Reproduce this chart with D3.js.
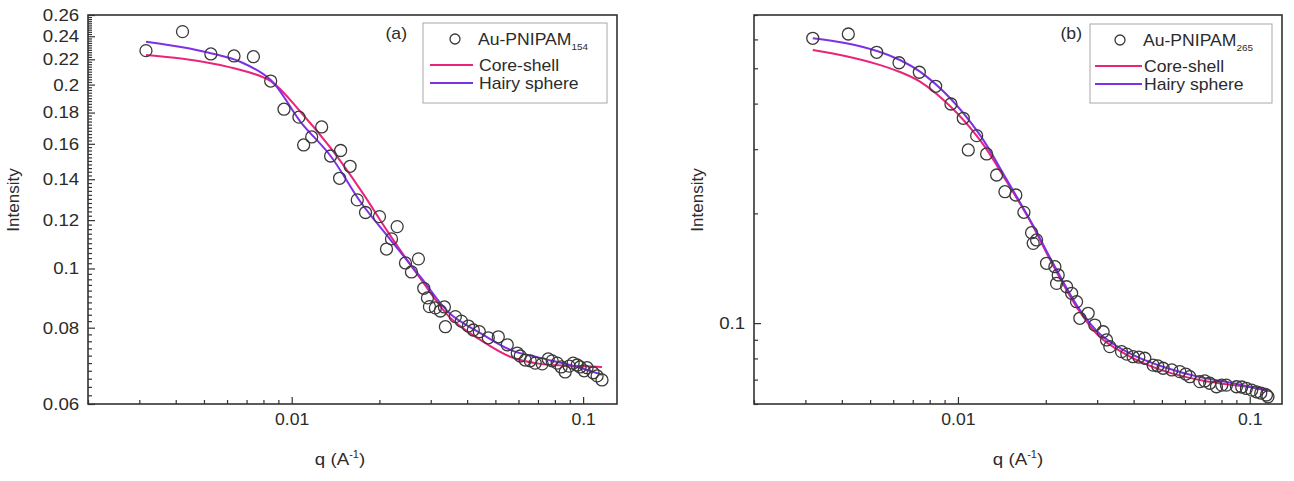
<!DOCTYPE html>
<html>
<head>
<meta charset="utf-8">
<script src="https://cdnjs.cloudflare.com/ajax/libs/d3/7.8.5/d3.min.js"></script>
<style>
  body { margin: 0; background: #fff; }
  text { font-family: "Liberation Sans", Arial, sans-serif; fill: #2b2b2b; }
</style>
</head>
<body>
<div id="chart"></div>
<script>
// ---- panel (a): Au-PNIPAM154 ----
const qA = [0.003162,0.00422,0.00528,0.00634,0.00739,0.00847,0.00941,0.01059,0.01099,0.01171,
  0.01267,0.0136,0.0146,0.01472,0.01586,0.01679,0.01792,0.02001,0.02115,0.022,
  0.02301,0.02457,0.02576,0.02722,0.02839,0.02923,0.02969,0.03112,0.03238,0.03342,
  0.03368,0.03644,0.03821,0.04039,0.042,0.04404,0.04727,0.05116,0.05492,0.05943,
  0.06084,0.0633,0.06584,0.06848,0.07238,0.07588,0.07831,0.08147,0.08409,0.08678,
  0.08956,0.09243,0.09539,0.09765,0.1008,0.1032,0.1082,0.1117,0.1161];
const iA = [0.2273,0.2442,0.2245,0.2228,0.2222,0.2027,0.1823,0.1769,0.1593,0.1642,
  0.1705,0.1528,0.1405,0.1560,0.1470,0.1295,0.1235,0.1216,0.1076,0.1118,
  0.1171,0.1021,0.0987,0.1037,0.0928,0.0895,0.0866,0.0862,0.0852,0.0865,
  0.0803,0.0834,0.0820,0.0805,0.0793,0.0788,0.0770,0.0773,0.0750,0.0727,
  0.0719,0.0708,0.0706,0.0700,0.0698,0.0711,0.0706,0.0700,0.0690,0.0677,
  0.0692,0.0700,0.0695,0.0690,0.0680,0.0688,0.0675,0.0667,0.0657];
const fitQA  = [0.003162,0.004168,0.005278,0.006686,0.008474,0.010735,0.0136,0.01723,0.02183,0.02766,0.03504,0.0444,0.05623,0.07124,0.09028,0.1161];
const coreA  = [0.2236,0.2207,0.2168,0.2113,0.2027,0.1804,0.1575,0.1345,0.1131,0.0962,0.0830,0.0764,0.0717,0.0698,0.0693,0.0690];
const hairyA = [0.2351,0.2304,0.2251,0.2178,0.2035,0.1737,0.1528,0.1285,0.1114,0.0969,0.0842,0.0784,0.0736,0.0714,0.0695,0.0670];

// ---- panel (b): Au-PNIPAM265 ----
const qB = [0.00318,0.00421,0.005267,0.006281,0.007373,0.008386,0.009463,0.01043,0.01085,0.01159,
  0.01254,0.01357,0.01449,0.01579,0.01683,0.01788,0.01811,0.0186,0.02012,0.02149,
  0.02178,0.02206,0.02357,0.02452,0.0255,0.02617,0.02794,0.02945,0.03145,0.0323,
  0.03315,0.03636,0.03791,0.03984,0.04168,0.04369,0.04665,0.04841,0.05048,0.05407,
  0.05759,0.06037,0.06231,0.06744,0.07014,0.07295,0.07691,0.0802,0.08322,0.09005,
  0.09389,0.09743,0.1016,0.1054,0.1091,0.1141,0.1155];
const iB = [0.6043,0.6209,0.5530,0.5177,0.4876,0.4462,0.3990,0.3645,0.2985,0.3267,
  0.2911,0.2548,0.2293,0.2246,0.2013,0.1770,0.1655,0.1691,0.1459,0.1428,
  0.1285,0.1355,0.1258,0.1207,0.1145,0.1031,0.1064,0.0988,0.0947,0.0899,
  0.0862,0.0835,0.0822,0.0809,0.0807,0.0801,0.0767,0.0763,0.0752,0.0744,
  0.0736,0.0725,0.0713,0.0691,0.0694,0.0684,0.0669,0.0676,0.0676,0.0669,
  0.0668,0.0662,0.0655,0.0648,0.0643,0.0635,0.0628];
const fitQB  = [0.00318,0.004102,0.005279,0.006326,0.007413,0.009389,0.01189,0.01472,0.01806,0.02115,0.02617,0.03064,0.03975,0.05198,0.06744,0.08745,0.1153];
const coreB  = [0.5612,0.5403,0.5134,0.4885,0.4596,0.394,0.318,0.2438,0.1847,0.1443,0.1073,0.0916,0.0802,0.0735,0.0698,0.0676,0.066];
const hairyB = [0.6043,0.5865,0.5575,0.5269,0.4894,0.4145,0.3282,0.2469,0.1858,0.1462,0.1087,0.0934,0.0818,0.0753,0.0711,0.0685,0.0651];

// ticks
const xTickLabels  = [0.01, 0.1];
const yTickLabelsA = [0.06,0.08,0.1,0.12,0.14,0.16,0.18,0.2,0.22,0.24,0.26];
const yTickLabelsB = [0.1];
const seriesNames  = ["Core-shell", "Hairy sphere"];

const w = 1294, h = 481;
const pink = "#ec2479", purple = "#7d30e8", ink = "#333";
const SX = 1.1; // the source figure is a little wider than tall

const svg = d3.select("#chart").append("svg")
  .attr("width", w)
  .attr("height", h);
svg.append("rect").attr("width", w).attr("height", h).attr("fill", "#fff");

const near = (a, b) => Math.abs(a - b) < 1e-9;
const at = (x, y) => `translate(${x},${y}) scale(${SX},1)`;

function drawPanel(p) {
  const x = d3.scaleLog().domain(p.xDomain).range([p.left, p.right]);
  const y = d3.scaleLog().domain(p.yDomain).range([p.bottom, p.top]);
  const g = svg.append("g");

  // minor ticks first
  const xMinor = x.ticks().filter(v => !xTickLabels.some(t => near(t, v)));
  g.append("g")
    .attr("transform", `translate(0,${p.bottom})`)
    .call(d3.axisBottom(x).tickValues(xMinor).tickSize(-4).tickFormat(""))
    .call(a => a.select(".domain").remove());
  g.append("g")
    .attr("transform", `translate(0,${p.bottom})`)
    .call(d3.axisBottom(x).tickValues(xTickLabels).tickSize(-7).tickPadding(10).tickFormat(d3.format("~g")))
    .call(a => a.select(".domain").remove())
    .call(a => a.selectAll("text").style("font-size", "16px").attr("fill", ink)
      .attr("transform", `scale(${SX},1)`));

  g.append("g")
    .attr("transform", `translate(${p.left},0)`)
    .call(d3.axisLeft(y).tickValues(p.yMinor).tickSize(-4).tickFormat(""))
    .call(a => a.select(".domain").remove());
  g.append("g")
    .attr("transform", `translate(${p.left},0)`)
    .call(d3.axisLeft(y).tickValues(p.yTicks).tickSize(-7).tickPadding(8).tickFormat(d3.format("~g")))
    .call(a => a.select(".domain").remove())
    .call(a => a.selectAll("text").style("font-size", "17px").attr("fill", ink)
      .attr("transform", `scale(${SX},1)`));

  g.selectAll(".tick line").attr("stroke", ink).attr("stroke-width", 1.2);

  // fits
  const line = d3.line()
    .x(d => x(d[0]))
    .y(d => y(d[1]))
    .curve(d3.curveCatmullRom.alpha(0.5));
  g.append("path")
    .datum(p.fitQ.map((q, i) => [q, p.core[i]]))
    .attr("d", line).attr("fill", "none").attr("stroke", pink).attr("stroke-width", 2);
  g.append("path")
    .datum(p.fitQ.map((q, i) => [q, p.hairy[i]]))
    .attr("d", line).attr("fill", "none").attr("stroke", purple).attr("stroke-width", 2);

  // data
  g.append("g").selectAll("circle")
    .data(p.q.map((q, i) => [q, p.I[i]]))
    .join("circle")
    .attr("cx", d => x(d[0]))
    .attr("cy", d => y(d[1]))
    .attr("r", 6)
    .attr("fill", "none")
    .attr("stroke", "#3a3a3a")
    .attr("stroke-width", 1.3);

  // frame
  g.append("rect")
    .attr("x", p.left).attr("y", p.top)
    .attr("width", p.right - p.left).attr("height", p.bottom - p.top)
    .attr("fill", "none").attr("stroke", ink).attr("stroke-width", 1.6);

  // axis titles
  const xt = g.append("text")
    .attr("transform", at(p.xTitleX, 465))
    .attr("text-anchor", "middle")
    .style("font-size", "17px");
  xt.append("tspan").text("q (A");
  xt.append("tspan").attr("dy", -7).style("font-size", "10px").text("-1");
  xt.append("tspan").attr("dy", 7).text(")");

  g.append("text")
    .attr("transform", `translate(${p.yTitleX},200) rotate(-90)`)
    .attr("text-anchor", "middle")
    .style("font-size", "17px")
    .text("Intensity");

  // tag
  g.append("text")
    .attr("transform", at(p.tagX, 39))
    .attr("text-anchor", "end")
    .style("font-size", "16px")
    .text(p.tag);

  // legend
  const L = p.legend;
  g.append("rect")
    .attr("x", L.x).attr("y", L.y)
    .attr("width", L.w).attr("height", L.h)
    .attr("fill", "#fff").attr("stroke", "#a8a8a8").attr("stroke-width", 1);
  g.append("circle")
    .attr("cx", L.markX).attr("cy", L.y + 16)
    .attr("r", 5).attr("fill", "none").attr("stroke", "#3a3a3a").attr("stroke-width", 1.3);
  const lt = g.append("text")
    .attr("transform", at(L.textX, L.y + 22))
    .style("font-size", "16px");
  lt.append("tspan").text("Au-PNIPAM");
  lt.append("tspan").attr("dy", 5).style("font-size", "9px").text(p.sub);

  [pink, purple].forEach((c, i) => {
    const yy = L.y + 42 + i * 18;
    g.append("line")
      .attr("x1", L.lineX0).attr("x2", L.lineX1)
      .attr("y1", yy).attr("y2", yy)
      .attr("stroke", c).attr("stroke-width", 2);
    g.append("text")
      .attr("transform", at(L.textX + 1, yy + 6))
      .style("font-size", "16px")
      .text(seriesNames[i]);
  });
}

const yMinorA = d3.range(0.06, 0.2601, 0.002)
  .filter(v => Math.abs(v / 0.02 - Math.round(v / 0.02)) > 1e-6);

drawPanel({
  left: 88, right: 617, top: 15, bottom: 404,
  xDomain: [0.002, 0.1307], yDomain: [0.06, 0.26],
  yTicks: yTickLabelsA, yMinor: yMinorA,
  q: qA, I: iA, fitQ: fitQA, core: coreA, hairy: hairyA,
  xTitleX: 340, yTitleX: 19, tag: "(a)", tagX: 407, sub: "154",
  legend: { x: 423, y: 23, w: 184, h: 80, markX: 455, textX: 478, lineX0: 430, lineX1: 473 }
});

const yScaleB = d3.scaleLog().domain([0.06, 0.7]);
drawPanel({
  left: 754, right: 1282, top: 15, bottom: 404,
  xDomain: [0.002, 0.129], yDomain: [0.06, 0.7],
  yTicks: yTickLabelsB,
  yMinor: yScaleB.ticks().filter(v => !yTickLabelsB.some(t => near(t, v))),
  q: qB, I: iB, fitQ: fitQB, core: coreB, hairy: hairyB,
  xTitleX: 1018, yTitleX: 703, tag: "(b)", tagX: 1082, sub: "265",
  legend: { x: 1090, y: 24, w: 182, h: 79, markX: 1120, textX: 1143, lineX0: 1095, lineX1: 1142 }
});
</script>
</body>
</html>
